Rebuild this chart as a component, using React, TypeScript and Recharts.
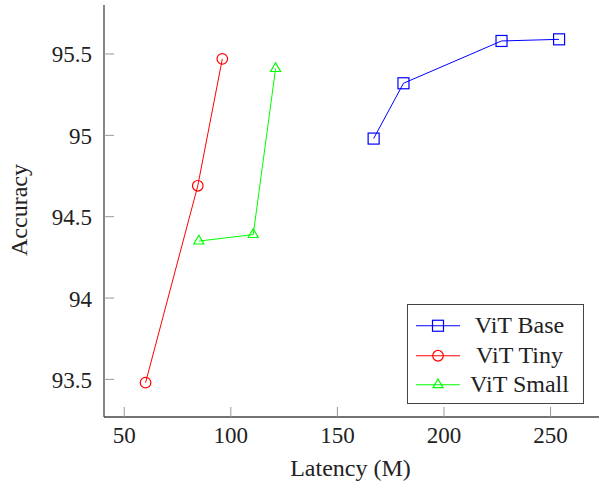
import React from 'react';
import { LineChart, Line, XAxis, YAxis, Legend } from 'recharts';

const baseLatency = [167, 181, 227, 254];
const baseAccuracy = [94.98, 95.32, 95.58, 95.59];
const tinyLatency = [60, 84.5, 96];
const tinyAccuracy = [93.48, 94.69, 95.47];
const smallLatency = [85, 110.5, 121];
const smallAccuracy = [94.35, 94.39, 95.41];

const xTicks = [50, 100, 150, 200, 250];
const yTicks = [93.5, 94, 94.5, 95, 95.5];

const toPoints = (xs: number[], ys: number[]) => xs.map((x, i) => ({ x, y: ys[i] }));
const baseData = toPoints(baseLatency, baseAccuracy);
const tinyData = toPoints(tinyLatency, tinyAccuracy);
const smallData = toPoints(smallLatency, smallAccuracy);

const FONT = '"Liberation Serif", "Noto Serif CJK SC", serif';
const AXIS = '#444';
const TICK = '#999';

const Square = ({ cx, cy, color }: any) => (
  <rect x={cx - 5.5} y={cy - 5.5} width={11} height={11} fill="none" stroke={color} strokeWidth={1.2} />
);
const Circle = ({ cx, cy, color }: any) => (
  <circle cx={cx} cy={cy} r={5.3} fill="none" stroke={color} strokeWidth={1.2} />
);
const Triangle = ({ cx, cy, color }: any) => {
  const r = 5.8;
  const pts = `${cx},${cy - r} ${cx - 0.866 * r},${cy + 0.5 * r} ${cx + 0.866 * r},${cy + 0.5 * r}`;
  return <polygon points={pts} fill="none" stroke={color} strokeWidth={1.2} />;
};

const series = [
  { name: 'ViT Base', data: baseData, color: '#0000ff', Mark: Square },
  { name: 'ViT Tiny', data: tinyData, color: '#ff0000', Mark: Circle },
  { name: 'ViT Small', data: smallData, color: '#00ff00', Mark: Triangle },
];

const BottomTick = ({ x, y, payload }: any) => (
  <g>
    <line x1={x} x2={x} y1={y} y2={y - 10} stroke={TICK} />
    <text x={x} y={y + 26} textAnchor="middle" fontFamily={FONT} fontSize={23} fill="#222">
      {payload.value}
    </text>
  </g>
);
const TopTick = ({ x, y }: any) => <line x1={x} x2={x} y1={y} y2={y + 10} stroke={TICK} />;
const LeftTick = ({ x, y, payload }: any) => (
  <g>
    <line x1={x} x2={x + 10} y1={y} y2={y} stroke={TICK} />
    <text x={x - 12} y={y + 8.5} textAnchor="end" fontFamily={FONT} fontSize={23} fill="#222">
      {payload.value}
    </text>
  </g>
);
const RightTick = ({ x, y }: any) => <line x1={x} x2={x - 10} y1={y} y2={y} stroke={TICK} />;

const LegendBox = () => (
  <div
    style={{
      width: 177,
      height: 100,
      boxSizing: 'border-box',
      border: `1.5px solid ${AXIS}`,
      background: '#fff',
      paddingTop: 6,
      fontFamily: FONT,
      fontSize: 24,
      color: '#222',
    }}
  >
    {series.map((s) => (
      <div key={s.name} style={{ display: 'flex', alignItems: 'center', height: 29.5 }}>
        <svg width={58} height={29.5} style={{ flex: 'none' }}>
          <line x1={8} x2={52} y1={14.75} y2={14.75} stroke={s.color} strokeWidth={1} />
          <s.Mark cx={30} cy={14.75} color={s.color} />
        </svg>
        <span style={{ width: 107, textAlign: 'center', whiteSpace: 'nowrap', lineHeight: '29.5px' }}>{s.name}</span>
      </div>
    ))}
  </div>
);

const App = () => {
  return (
    <div style={{ position: 'absolute', left: 0, top: 0, width: 599, height: 481, overflow: 'hidden', background: '#fff', fontFamily: FONT }}>
      <LineChart width={610} height={481} margin={{ top: 5, right: 10, left: 0, bottom: 0 }}>
        <XAxis
          xAxisId="bottom"
          type="number"
          dataKey="x"
          domain={[40.5, 273.2]}
          ticks={xTicks}
          height={64}
          tickSize={0}
          tickMargin={0}
          tickLine={false}
          axisLine={{ stroke: AXIS, strokeWidth: 1.3 }}
          tick={<BottomTick />}
          allowDataOverflow
          label={{
            value: 'Latency (M)',
            content: ({ viewBox }: any) => (
              <text x={viewBox.x + viewBox.width / 2 - 1.5} y={viewBox.y + 59} textAnchor="middle" fontFamily={FONT} fontSize={24} fill="#222">
                Latency (M)
              </text>
            ),
          }}
        />
        <XAxis
          xAxisId="top"
          orientation="top"
          type="number"
          dataKey="x"
          domain={[40.5, 273.2]}
          ticks={xTicks}
          height={0}
          tickSize={0}
          tickMargin={0}
          tickLine={false}
          axisLine={{ stroke: AXIS, strokeWidth: 1.3 }}
          tick={<TopTick />}
          allowDataOverflow
        />
        <YAxis
          yAxisId="left"
          type="number"
          domain={[93.269, 95.801]}
          ticks={yTicks}
          width={104}
          tickSize={0}
          tickMargin={0}
          tickLine={false}
          axisLine={{ stroke: AXIS, strokeWidth: 1.3 }}
          tick={<LeftTick />}
          allowDataOverflow
          label={{
            value: 'Accuracy',
            content: ({ viewBox }: any) => {
              const cy = viewBox.y + viewBox.height / 2 - 1;
              return (
                <text x={27} y={cy} transform={`rotate(-90, 27, ${cy})`} textAnchor="middle" fontFamily={FONT} fontSize={24} fill="#222">
                  Accuracy
                </text>
              );
            },
          }}
        />
        <YAxis
          yAxisId="right"
          orientation="right"
          type="number"
          domain={[93.269, 95.801]}
          ticks={yTicks}
          width={0}
          tickSize={0}
          tickMargin={0}
          tickLine={false}
          axisLine={{ stroke: AXIS, strokeWidth: 1.3 }}
          tick={<RightTick />}
          allowDataOverflow
        />
        {series.map((s) => (
          <Line
            key={s.name}
            xAxisId="bottom"
            yAxisId="left"
            data={s.data}
            dataKey="y"
            name={s.name}
            stroke={s.color}
            strokeWidth={1}
            isAnimationActive={false}
            dot={(p: any) => <s.Mark key={`${s.name}-${p.index}`} cx={p.cx} cy={p.cy} color={s.color} />}
            activeDot={false}
          />
        ))}
        <Legend
          layout="vertical"
          align="center"
          verticalAlign="middle"
          wrapperStyle={{ position: 'absolute', left: 407, top: 304, width: 177, height: 100 }}
          content={() => <LegendBox />}
        />
      </LineChart>
    </div>
  );
};

export default App;
